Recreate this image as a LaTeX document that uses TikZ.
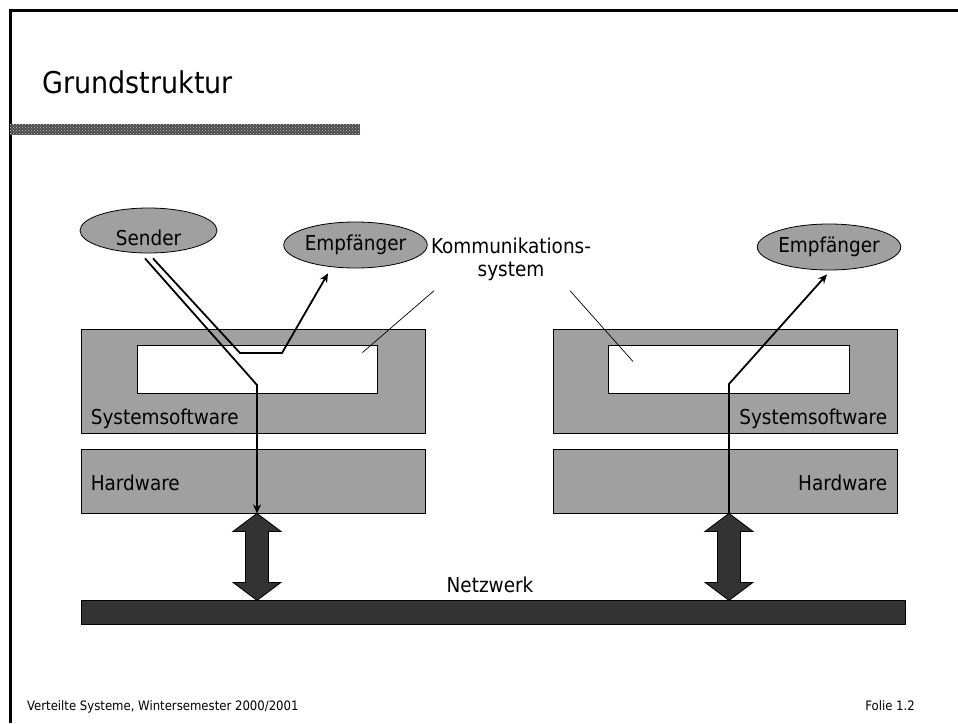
\documentclass[tikz,border=0pt]{standalone}
\usepackage{fontspec}
\setmainfont{DejaVu Sans Condensed}
\usetikzlibrary{positioning,shapes.geometric,patterns,arrows.meta}
\definecolor{boxcol}{RGB}{160,160,160}
\definecolor{netcol}{RGB}{51,51,51}

\begin{document}
\begin{tikzpicture}[
  x=1pt, y=-1pt,
  every node/.style={font=\fontsize{20.5}{22.5}\selectfont, inner sep=0pt},
  layer/.style={draw=black, fill=boxcol, line width=0.8pt},
  hole/.style={draw=black, fill=white, line width=0.8pt},
  proc/.style={ellipse, draw=black, fill=boxcol, line width=0.8pt},
  titlebar/.style={fill=black!70, postaction={pattern=crosshatch dots, pattern color=white!75!black}},
  foot/.style={font=\fontsize{13}{15}\selectfont},
  sig/.style={line width=1.8pt, -{Stealth[length=9pt,width=8pt]}},
  leader/.style={line width=0.7pt},
  bigarrow/.style={draw=black, fill=netcol, line width=0.8pt, line join=miter}
]
\useasboundingbox (0,0) rectangle (958,723);

% ---------------- slide frame and title ----------------
\draw[line width=3pt] (10,723) -- (10,10) -- (958,10);
\node[anchor=base west, font=\fontsize{30}{36}\selectfont] (title) at (42,93) {Grundstruktur};
\node[titlebar, minimum width=350pt, minimum height=11pt, anchor=north west] (bar) at (10,123.5) {};

% ---------------- left host ----------------
\node[layer, minimum width=344pt, minimum height=104pt] (swL) at (253,381) {};
\node[hole, minimum width=240pt, minimum height=48pt] (innerL) at (257,369) {};
\node[layer, minimum width=344pt, minimum height=64pt] (hwL) at (253,481) {};
\node[anchor=base west] (swLtxt) at ([shift={(10pt,9pt)}]swL.south west) {Systemsoftware};
\node[anchor=base west] (hwLtxt) at ([shift={(10pt,23pt)}]hwL.south west) {Hardware};

\node[proc, minimum width=137pt, minimum height=45pt, text height=29.5pt, text depth=0pt] (sender) at (148.5,230.5) {Sender};
\node[proc, minimum width=135pt, minimum height=46pt] (empfL) at (355.5,245) {Empfänger};

% ---------------- right host ----------------
\node[layer, minimum width=344pt, minimum height=104pt] (swR) at (725,381) {};
\node[hole, minimum width=241pt, minimum height=48pt] (innerR) at (729,369) {};
\node[layer, minimum width=344pt, minimum height=64pt] (hwR) at (725,481) {};
\node[anchor=base east] (swRtxt) at ([shift={(-10pt,9pt)}]swR.south east) {Systemsoftware};
\node[anchor=base east] (hwRtxt) at ([shift={(-10pt,23pt)}]hwR.south east) {Hardware};

\node[proc, minimum width=136pt, minimum height=46pt] (empfR) at (829,247) {Empfänger};

% ---------------- network ----------------
\node[draw=black, fill=netcol, minimum width=824pt, minimum height=24pt] (net) at (493,612) {};
\node[anchor=base] (nettxt) at ([shift={(-3pt,7pt)}]net.north) {Netzwerk};

% ---------------- communication system label ----------------
\node[anchor=north, align=center] (kom) at (511,238) {Kommunikations-\\system};
\coordinate (komL) at ([shift={(-77pt,-10pt)}]kom.south);
\coordinate (komR) at ([shift={(59pt,-10pt)}]kom.south);
\draw[leader] (komL) -- ([shift={(-15pt,-8pt)}]innerL.north east);
\draw[leader] (komR) -- ([shift={(25pt,-17pt)}]innerR.north west);

% ---------------- message paths ----------------
\coordinate (downL) at (257,385);
\coordinate (dipA) at (240,353);
\coordinate (dipB) at (282,353);
\coordinate (upR) at (729,384);

\draw[sig] ([shift={(-3.5pt,-5pt)}]sender.south) -- (downL) -- (downL |- hwL.south);
\draw[sig] ([shift={(4.5pt,-5pt)}]sender.south) -- (dipA) -- (dipB) -- ([shift={(-27.5pt,-5pt)}]empfL.south);
\draw[sig] (upR |- hwR.south) -- (upR) -- ([shift={(-2pt,-4pt)}]empfR.south);

% ---------------- host <-> network ----------------
\draw[bigarrow] (downL |- hwL.south) -- ++(24,18) -- ++(-12.5,0) -- ++(0,51) -- ++(12.5,0) -- ++(-24,18)
  -- ++(-24,-18) -- ++(12.5,0) -- ++(0,-51) -- ++(-12.5,0) -- cycle;
\draw[bigarrow] (upR |- hwR.south) -- ++(24,18) -- ++(-12.5,0) -- ++(0,51) -- ++(12.5,0) -- ++(-24,18)
  -- ++(-24,-18) -- ++(12.5,0) -- ++(0,-51) -- ++(-12.5,0) -- cycle;

% ---------------- footer ----------------
\node[foot, anchor=base west] (course) at (27,710) {Verteilte Systeme, Wintersemester 2000/2001};
\node[foot, anchor=base east] (slide) at (915,710) {Folie 1.2};

\end{tikzpicture}
\end{document}
